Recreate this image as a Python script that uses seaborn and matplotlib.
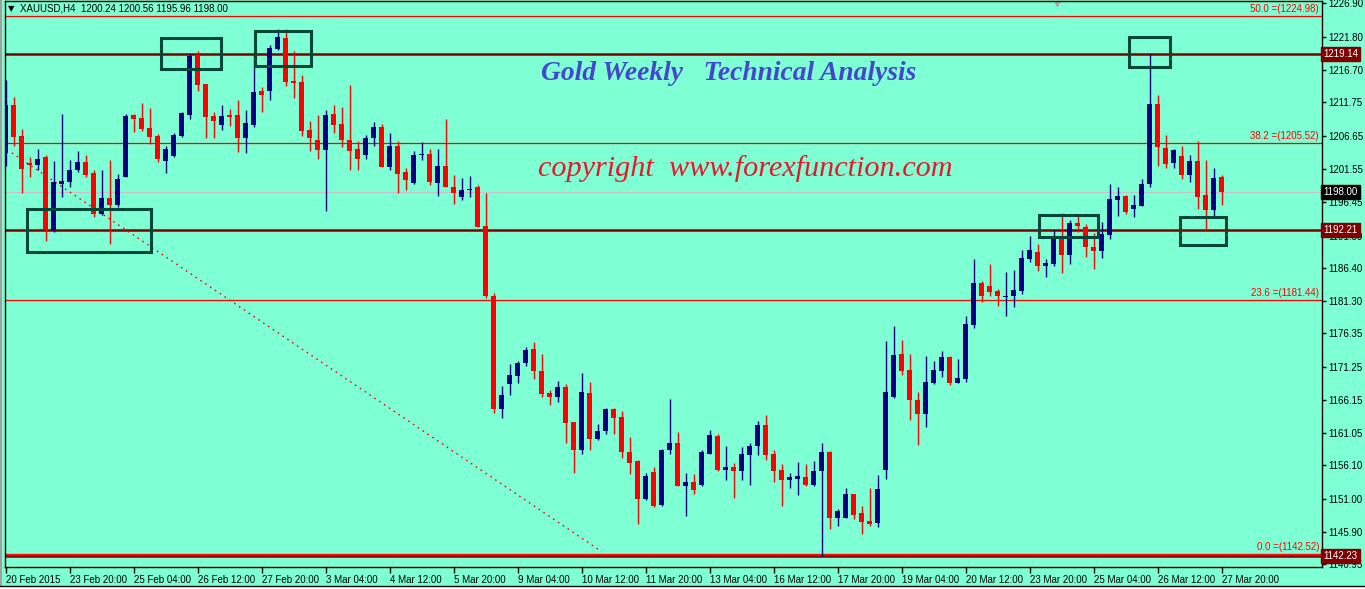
import numpy as np
import matplotlib
matplotlib.use("Agg")
import matplotlib.pyplot as plt
import matplotlib.transforms as mtransforms
from matplotlib.patches import Rectangle
import seaborn as sns

# ── XAUUSD H4 candles ──────────────────────────────────────────────
opens = [
    1204.0, 1211.3, 1206.6, 1202.5, 1202.2, 1203.3, 1192.1, 1199.2, 1199.5, 1201.3,
    1202.6, 1200.9, 1194.6, 1197.1, 1196.0, 1200.3, 1209.8, 1209.4, 1207.8, 1206.6,
    1202.8, 1203.5, 1206.6, 1209.8, 1218.8, 1214.5, 1209.6, 1208.3, 1209.8, 1209.8,
    1206.3, 1208.3, 1213.5, 1213.5, 1219.9, 1221.6, 1215.0, 1214.9, 1207.5, 1206.0,
    1204.5, 1209.9, 1208.4, 1206.0, 1204.6, 1203.6, 1206.2, 1208.0, 1201.9, 1205.1,
    1201.0, 1199.4, 1203.6, 1203.8, 1199.4, 1202.0, 1198.7, 1197.3, 1198.3, 1198.7,
    1192.8, 1182.1, 1164.8, 1168.6, 1169.8, 1171.8, 1173.9, 1170.6, 1167.2, 1166.6,
    1168.1, 1162.7, 1158.4, 1167.2, 1160.2, 1161.4, 1164.8, 1163.5, 1158.2, 1156.8,
    1150.9, 1155.1, 1150.0, 1158.4, 1159.6, 1153.0, 1153.5, 1153.1, 1157.9, 1160.6,
    1155.4, 1155.8, 1155.3, 1157.7, 1159.1, 1162.3, 1157.9, 1155.4, 1153.9, 1154.1,
    1154.3, 1153.1, 1155.3, 1158.2, 1148.1, 1148.1, 1151.7, 1148.8, 1147.6, 1147.3,
    1155.4, 1166.6, 1173.2, 1170.7, 1166.1, 1164.0, 1168.7, 1170.6, 1172.7, 1168.8,
    1169.4, 1177.6, 1184.1, 1183.6, 1182.8, 1181.9, 1182.1, 1182.9, 1187.7, 1188.8,
    1186.7, 1187.0, 1191.0, 1188.4, 1193.3, 1192.6, 1189.6, 1189.0, 1191.4, 1196.8,
    1197.4, 1195.4, 1195.9, 1199.2, 1211.5, 1204.8, 1202.5, 1203.5, 1200.6, 1202.8,
    1197.5, 1195.2, 1200.24,
]
highs = [
    1215.2, 1212.5, 1207.7, 1203.3, 1204.6, 1203.7, 1202.7, 1210.0, 1202.9, 1204.3,
    1203.7, 1201.4, 1201.4, 1202.9, 1200.8, 1210.0, 1209.9, 1211.7, 1210.9, 1206.9,
    1205.1, 1207.1, 1210.2, 1219.2, 1219.6, 1214.6, 1210.3, 1211.3, 1210.7, 1212.1,
    1210.6, 1219.2, 1214.1, 1220.5, 1223.0, 1223.0, 1219.6, 1215.9, 1208.9, 1209.8,
    1210.6, 1211.3, 1211.0, 1214.4, 1205.8, 1206.7, 1208.7, 1208.4, 1207.0, 1205.8,
    1201.7, 1204.3, 1205.7, 1204.6, 1204.6, 1209.2, 1200.6, 1200.1, 1200.5, 1199.1,
    1197.9, 1182.5, 1168.2, 1171.6, 1172.1, 1174.3, 1175.0, 1173.2, 1167.7, 1169.0,
    1168.6, 1162.8, 1170.2, 1168.9, 1162.4, 1164.9, 1164.9, 1164.4, 1160.5, 1157.0,
    1155.0, 1155.8, 1158.6, 1166.3, 1161.3, 1155.0, 1154.8, 1158.5, 1161.5, 1160.9,
    1159.1, 1156.5, 1159.0, 1159.6, 1162.9, 1163.8, 1158.5, 1156.3, 1155.0, 1156.7,
    1156.3, 1156.8, 1159.6, 1158.3, 1149.4, 1152.7, 1151.8, 1149.9, 1152.6, 1154.6,
    1175.2, 1177.5, 1175.3, 1173.2, 1167.4, 1172.8, 1172.1, 1173.7, 1172.8, 1172.4,
    1179.0, 1187.7, 1184.4, 1187.0, 1183.1, 1185.7, 1186.1, 1189.1, 1191.3, 1190.0,
    1187.7, 1192.2, 1194.8, 1193.7, 1194.3, 1193.1, 1191.7, 1193.4, 1199.3, 1198.8,
    1197.6, 1197.5, 1200.0, 1219.1, 1212.9, 1206.7, 1204.6, 1205.1, 1203.7, 1205.8,
    1202.9, 1201.7, 1200.56,
]
lows = [
    1202.0, 1205.1, 1197.9, 1200.3, 1201.4, 1190.5, 1191.8, 1197.2, 1198.7, 1201.0,
    1200.3, 1194.2, 1194.5, 1190.1, 1195.7, 1200.3, 1207.2, 1207.4, 1205.3, 1202.6,
    1200.9, 1203.3, 1206.5, 1209.2, 1213.5, 1206.3, 1206.2, 1207.5, 1208.1, 1204.2,
    1204.0, 1208.0, 1210.3, 1212.1, 1219.8, 1214.2, 1212.4, 1206.6, 1204.3, 1203.1,
    1195.1, 1207.0, 1204.9, 1201.3, 1201.4, 1203.1, 1205.1, 1201.8, 1201.4, 1197.9,
    1198.3, 1199.3, 1202.9, 1199.1, 1197.4, 1198.7, 1196.2, 1196.8, 1197.3, 1192.6,
    1181.8, 1164.2, 1163.4, 1166.9, 1168.8, 1171.4, 1169.4, 1166.6, 1165.4, 1165.9,
    1159.5, 1155.0, 1157.8, 1158.5, 1160.0, 1160.9, 1160.9, 1157.3, 1154.8, 1147.1,
    1150.8, 1149.8, 1149.9, 1157.9, 1152.9, 1148.3, 1151.7, 1153.0, 1157.8, 1155.3,
    1153.8, 1151.1, 1153.9, 1153.1, 1157.7, 1156.9, 1153.5, 1149.9, 1152.6, 1151.6,
    1152.9, 1152.9, 1142.3, 1146.4, 1146.8, 1148.0, 1147.9, 1145.6, 1146.8, 1146.7,
    1154.0, 1166.5, 1170.0, 1163.0, 1159.2, 1162.0, 1168.6, 1169.6, 1168.4, 1168.7,
    1168.9, 1177.1, 1181.1, 1182.1, 1180.5, 1179.0, 1180.4, 1182.4, 1187.3, 1185.9,
    1185.0, 1186.7, 1185.6, 1187.0, 1191.9, 1188.1, 1186.2, 1187.9, 1190.8, 1194.3,
    1194.6, 1194.2, 1195.8, 1198.7, 1202.0, 1201.7, 1201.6, 1200.0, 1199.6, 1195.4,
    1192.2, 1194.3, 1195.96,
]
closes = [
    1211.3, 1206.5, 1201.5, 1202.1, 1203.1, 1192.2, 1199.5, 1199.7, 1201.4, 1202.6,
    1200.6, 1194.7, 1197.1, 1196.0, 1200.0, 1209.6, 1209.2, 1207.7, 1206.5, 1203.0,
    1204.6, 1206.7, 1210.1, 1218.8, 1214.4, 1209.5, 1208.9, 1209.6, 1209.5, 1206.3,
    1208.5, 1213.3, 1212.8, 1220.1, 1221.8, 1214.9, 1214.7, 1207.4, 1206.3, 1204.5,
    1209.8, 1208.3, 1205.9, 1204.3, 1203.1, 1206.3, 1208.0, 1201.9, 1205.1, 1200.7,
    1199.8, 1203.7, 1203.8, 1199.6, 1202.0, 1198.8, 1197.9, 1198.3, 1198.5, 1192.7,
    1182.0, 1164.8, 1166.9, 1170.0, 1171.8, 1173.8, 1170.6, 1167.1, 1166.6, 1168.1,
    1162.6, 1158.4, 1167.3, 1160.2, 1161.4, 1164.8, 1163.4, 1158.1, 1156.5, 1150.9,
    1154.5, 1149.9, 1158.5, 1159.6, 1153.0, 1153.5, 1152.3, 1158.1, 1160.8, 1155.4,
    1155.9, 1155.3, 1157.9, 1159.1, 1162.3, 1157.7, 1155.3, 1153.9, 1154.3, 1154.5,
    1153.1, 1155.3, 1158.2, 1148.1, 1149.1, 1151.7, 1148.5, 1147.5, 1147.2, 1152.5,
    1167.4, 1173.0, 1170.6, 1166.1, 1164.0, 1168.9, 1170.7, 1172.7, 1168.8, 1169.5,
    1177.8, 1184.1, 1182.0, 1182.7, 1182.0, 1182.1, 1183.0, 1187.9, 1189.1, 1186.7,
    1187.1, 1190.8, 1188.4, 1193.3, 1192.8, 1189.5, 1189.0, 1191.6, 1196.9, 1197.4,
    1194.9, 1196.0, 1199.2, 1211.5, 1204.9, 1202.3, 1204.4, 1200.6, 1202.8, 1197.3,
    1195.2, 1200.1, 1198.00,
]

date_labels = [
    "20 Feb 2015", "23 Feb 20:00", "25 Feb 04:00", "26 Feb 12:00", "27 Feb 20:00",
    "3 Mar 04:00", "4 Mar 12:00", "5 Mar 20:00", "9 Mar 04:00", "10 Mar 12:00",
    "11 Mar 20:00", "13 Mar 04:00", "16 Mar 12:00", "17 Mar 20:00", "19 Mar 04:00",
    "20 Mar 12:00", "23 Mar 20:00", "25 Mar 04:00", "26 Mar 12:00", "27 Mar 20:00",
]
price_ticks = [1226.90, 1221.80, 1216.70, 1211.75, 1206.65, 1201.55, 1196.45, 1191.30,
               1186.40, 1181.30, 1176.35, 1171.25, 1166.15, 1161.05, 1156.10, 1151.00,
               1145.90, 1140.95]

fib_levels = [50.0, 38.2, 23.6, 0.0]
fib_prices = [1224.98, 1205.52, 1181.44, 1142.52]
sr_lines = [1219.14, 1192.21, 1142.23]
bid_price = 1198.00

# trend line from the fibo anchor down to the 0.0 level (bar, price)
trend_x = [0.8, 74.5]
trend_y = [1204.0, 1142.9]

# highlight boxes: (bar0, bar1, price_lo, price_hi)
boxes = [
    (2.65, 18.2, 1188.8, 1195.4),
    (19.45, 26.95, 1216.85, 1221.65),
    (31.2, 38.2, 1217.35, 1222.65),
    (140.45, 145.55, 1217.2, 1221.8),
    (129.2, 136.6, 1191.15, 1194.45),
    (146.8, 152.5, 1189.9, 1194.2),
]

BG = "#7FFFD4"
NAVY = "#000080"
RED = "#FF0000"
MAROON = "#800000"
BOXC = "#03473B"

sns.set_style("white")
plt.rcParams["font.family"] = ["Liberation Sans", "DejaVu Sans"]

W, H = 1365, 589
fig = plt.figure(figsize=(W / 100, H / 100), dpi=100, facecolor=BG)
ax = fig.add_axes([4.7 / W, (H - 567.3) / H, 1317 / W, 566.3 / H])
ax.set_facecolor(BG)

o = np.array(opens); h = np.array(highs); l = np.array(lows); c = np.array(closes)
x = np.arange(len(o))
cols = np.where(c >= o, NAVY, RED)

ax.vlines(x, l, h, colors=cols, lw=1.0, zorder=3)
ax.bar(x, np.maximum(np.abs(c - o), 0.16), bottom=np.minimum(o, c), width=0.62,
       color=cols, lw=0, zorder=3)

# fibo levels
trans = mtransforms.blended_transform_factory(ax.transAxes, ax.transData)
for lev, p in zip(fib_levels, fib_prices):
    ax.axhline(p, color=RED, lw=0.9, zorder=2)
    ax.text(0.998, p + 0.3, f"{lev:.1f} =({p:.2f})", transform=trans, ha="right",
            va="bottom", color=RED, fontsize=7)

for p in sr_lines:
    ax.axhline(p, color=MAROON, lw=1.8, zorder=2)
ax.axhline(bid_price, color="#C8C0C8", lw=0.9, zorder=1)

sns.lineplot(x=trend_x, y=trend_y, ax=ax, color=RED, lw=1.0,
             linestyle=(0, (1.2, 3.0)), zorder=2)

for b0, b1, lo, hi in boxes:
    ax.add_patch(Rectangle((b0, lo), b1 - b0, hi - lo, fill=False, ec=BOXC,
                           lw=2.2, zorder=4))

ax.text(90.4, 1216.2, "Gold Weekly   Technical Analysis", ha="center", va="center",
        color="#4646CD", fontsize=19.8, fontweight="bold", fontstyle="italic",
        family="Liberation Serif", zorder=5)
ax.text(92.5, 1201.6, "copyright  www.forexfunction.com", ha="center", va="center",
        color="#E8182A", fontsize=21.8, fontstyle="italic", family="Liberation Serif",
        zorder=5)

# header
ax.text(0.0025, 0.986, "▼", transform=ax.transAxes, ha="left", va="center",
        fontsize=6, family="DejaVu Sans", color="black")
ax.text(0.0115, 0.986, "XAUUSD,H4  1200.24 1200.56 1195.96 1198.00",
        transform=ax.transAxes, ha="left", va="center", fontsize=7, color="black")
ax.plot([0.799], [1.0], marker="v", ms=7, color="#A8A8A8", mec="#A8A8A8",
        transform=ax.transAxes, clip_on=True)

ax.set_xlim(-0.1, 164.5)
ax.set_ylim(1140.50, 1227.26)

ax.yaxis.tick_right()
ax.set_yticks(price_ticks)
ax.set_yticklabels([f"{v:.2f}" for v in price_ticks])
ax.set_xticks(np.arange(len(date_labels)) * 8)
ax.set_xticklabels(date_labels, ha="left")
ax.tick_params(axis="y", right=True, length=3, width=1, pad=2, labelsize=7,
               colors="black")
ax.tick_params(axis="x", bottom=True, length=4, width=1, pad=1.5, labelsize=7,
               colors="black")
for s in ax.spines.values():
    s.set_color("black")
    s.set_linewidth(1.0)
ax.set_xlabel("")
ax.set_ylabel("")

# price tags on the right scale
for p, fc in [(sr_lines[0], MAROON), (bid_price, "black"), (sr_lines[1], MAROON),
              (sr_lines[2], MAROON)]:
    ax.text(1.0012, p, f"{p:.2f}", transform=trans, ha="left", va="center",
            fontsize=7, color="white", clip_on=False, zorder=6,
            bbox=dict(boxstyle="square,pad=0.22", fc=fc, ec=fc))

# window borders
fig.patches.append(Rectangle((0, 0), 2 / W, 1, transform=fig.transFigure,
                             fc="#A0A0A0", ec="none"))
fig.patches.append(Rectangle((0, 0), 1, 3 / H, transform=fig.transFigure,
                             fc="white", ec="none"))
fig.lines.append(plt.Line2D([0, 1], [3 / H, 3 / H], transform=fig.transFigure,
                            color="black", lw=1))

fig.savefig("out.png", dpi=100, facecolor=BG)
